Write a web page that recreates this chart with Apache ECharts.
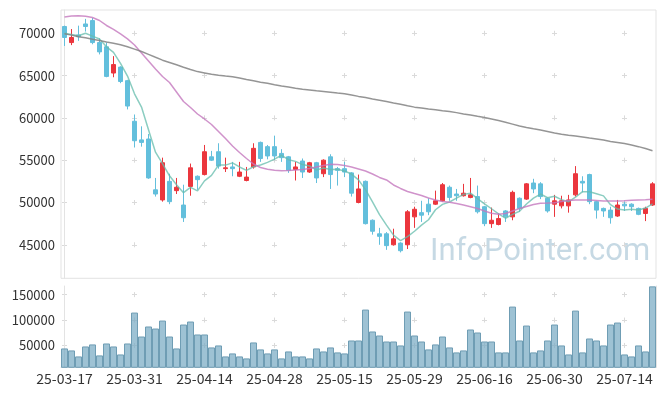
<!DOCTYPE html>
<html><head><meta charset="utf-8">
<script src="https://cdn.jsdelivr.net/npm/echarts@6/dist/echarts.min.js"></script>
<style>html,body{margin:0;padding:0;background:#fff}#c{width:665px;height:396px}</style>
</head><body><div id="c"></div>
<script>
const dates = ['25-03-17','25-03-18','25-03-19','25-03-20','25-03-21','25-03-24','25-03-25','25-03-26','25-03-27','25-03-28',
'25-03-31','25-04-01','25-04-02','25-04-03','25-04-04','25-04-07','25-04-08','25-04-09','25-04-10','25-04-11',
'25-04-14','25-04-15','25-04-16','25-04-17','25-04-18','25-04-21','25-04-22','25-04-23','25-04-24','25-04-25',
'25-04-28','25-04-29','25-04-30','25-05-02','25-05-07','25-05-08','25-05-09','25-05-12','25-05-13','25-05-14',
'25-05-15','25-05-16','25-05-19','25-05-20','25-05-21','25-05-22','25-05-23','25-05-26','25-05-27','25-05-28',
'25-05-29','25-05-30','25-06-02','25-06-04','25-06-05','25-06-09','25-06-10','25-06-11','25-06-12','25-06-13',
'25-06-16','25-06-17','25-06-18','25-06-19','25-06-20','25-06-23','25-06-24','25-06-25','25-06-26','25-06-27',
'25-06-30','25-07-01','25-07-02','25-07-03','25-07-04','25-07-07','25-07-08','25-07-09','25-07-10','25-07-11',
'25-07-14','25-07-15','25-07-16','25-07-17','25-07-18'];

const opens = [70800,68900,69800,71100,71500,68900,68400,65300,66000,64400,
59600,57400,57500,51500,50300,52500,51400,49700,51900,53100,
53300,55400,56000,54000,54200,53100,52600,54200,57100,56600,
56600,55800,55400,53900,54900,53600,54700,53400,55400,54000,
54000,53500,50000,52500,47900,46300,46300,45000,45200,45000,
48300,48800,49800,49800,50200,51800,51000,50800,50600,50700,
49500,47500,47400,49000,48300,50500,50400,52300,52200,50500,
49800,49600,49600,50900,52500,53300,50100,49300,49100,48400,
49800,49800,49300,48700,49700];

const closes = [69500,69500,69600,70800,68900,67800,64900,66300,64300,61400,
57300,57100,52900,51000,54700,50100,51800,48200,54100,52700,
56000,55000,54300,54100,54000,53600,53000,56400,55200,55500,
55500,55300,53800,54200,53600,54700,52900,55000,53300,53800,
53600,51100,51600,47500,46600,46000,44900,45700,44300,48900,
49200,48500,48900,50200,52100,50600,50800,51100,50900,48900,
47500,47900,48100,48300,51200,49300,52200,51600,50700,49000,
50200,50200,50300,53400,52300,50100,49100,49000,48200,49700,
49600,49500,48600,49300,52200];

const lows = [68500,68600,69100,70200,68700,67500,64800,64800,64100,61000,
56500,56600,52800,50700,50100,49800,51000,47700,50800,51500,
53200,54900,54000,53600,53100,53000,52500,54000,54800,55100,
55000,54800,53500,52600,52900,53500,52300,53000,51600,52000,
53000,50700,49900,47400,46200,45000,44400,44900,44100,44500,
47000,47700,48500,49700,50100,50200,50200,50700,50500,48700,
47200,47000,47300,47700,47900,48900,50300,51100,50400,48800,
48300,49300,48800,50700,51200,49800,48100,48300,47500,48300,
49000,49000,48500,47800,49600];

const highs = [70900,70500,70900,71700,71800,69400,68900,67300,66100,64500,
60400,59000,58100,52900,55300,53400,52900,52100,54600,53200,
56800,56100,57000,55300,54800,54800,54200,57000,57200,56800,
57900,56300,55500,54800,55200,54800,54800,55100,55700,54200,
54800,53600,53300,52600,48000,47000,46500,46900,45300,49100,
49500,50200,50500,51400,52300,52000,51600,52200,52900,52000,
49600,49400,48700,49100,51400,50600,52300,52800,52400,50600,
50900,50800,50900,54300,53100,53400,50200,49400,49500,50300,
50100,49900,49400,49500,52400];

const volumes = [44100,40200,28400,48000,52000,30400,53900,48000,32300,53900,
114700,67600,87300,83300,99000,67600,44100,91200,97100,71600,
71600,46100,50000,28400,34300,28400,24500,55900,42200,34300,
42200,24500,38200,28400,28400,24500,44100,38200,46100,36300,
34300,59800,59800,120600,77500,69600,57800,57800,50000,116700,
69600,57800,42200,52000,67600,46100,36300,40200,81400,75500,
57800,57800,36300,36300,126500,59800,89200,36300,40200,59800,
91200,50000,32300,118600,36300,63700,59800,50000,91200,95100,
32300,28400,50000,38200,166300];

const ma5 = [70000,69860,69700,70000,69660,69320,68400,67740,66440,64940,
62840,61280,58600,55940,54600,53160,52100,51160,51780,51380,
52560,53200,54420,54420,54680,54200,53800,54220,54440,54740,
55120,55580,55060,54860,54480,54320,53840,54080,53900,53940,
53720,53360,52680,51520,50080,48560,47320,46140,45500,45960,
46600,47320,47960,49140,49780,50060,50520,50960,51100,50460,
49840,49260,48660,48140,48600,48960,49820,50520,51000,50560,
50740,50340,50080,50620,51280,51260,51040,50780,49740,49220,
49120,49200,49120,49340,49840];

const ma20 = [71930,72050,72080,72010,71870,71510,70920,70450,69920,69330,
68620,67670,66730,65780,64890,64180,63060,61940,61230,60460,
59870,59220,58390,57570,56680,55910,55200,54550,54140,53930,
53810,53760,53780,53840,53900,54020,54200,54370,54520,54490,
54370,54200,53960,53720,53370,52960,52660,52070,51660,51300,
51060,50830,50530,50300,50120,50020,49880,49710,49500,49290,
49000,48720,48610,48700,49000,49290,49530,49760,49910,49940,
49980,50120,50240,50300,50300,50300,50240,50180,50180,50180,
50210,50260,50300,50330,50380];

const ma60 = [69940,69780,69600,69460,69290,69140,68970,68820,68650,68400,
68130,67850,67510,67160,66820,66550,66270,65990,65720,65470,
65310,65150,65040,64950,64870,64720,64540,64390,64220,64080,
63920,63770,63640,63510,63390,63300,63200,63120,63040,62940,
62850,62710,62540,62400,62230,62080,61930,61760,61600,61430,
61270,61160,61050,60960,60850,60750,60620,60470,60330,60180,
60050,59870,59680,59480,59260,59040,58870,58710,58560,58390,
58220,58070,57960,57860,57740,57620,57510,57390,57220,57090,
56960,56800,56600,56380,56120];

const priceTicks = [45000, 50000, 55000, 60000, 65000, 70000];
const volumeTicks = [50000, 100000, 150000];

// layout / style constants
const GL = 61, GW = 595;
const P_TOP = 10, P_H = 268.3, P_MIN = 41040, P_MAX = 72750, P_STEP = 5000;
const V_TOP = 286, V_H = 81.3, V_MIN = 7000, V_MAX = 167000, V_STEP = 50000;
const CROSS = '#dadada', CL = 5;
const bandPx = GW / dates.length;
const xPeriod = bandPx * 10;
const hOffset = xPeriod - (bandPx / 2 - CL / 2);
function vOffset(top, h, min, max, step, firstTick) {
  const period = step * h / (max - min);
  const start = (max - firstTick) * h / (max - min) - CL / 2;
  return { period, offset: ((period - start) % period + period) % period };
}
const pv = vOffset(P_TOP, P_H, P_MIN, P_MAX, P_STEP, priceTicks[priceTicks.length - 1]);
const vv = vOffset(V_TOP, V_H, V_MIN, V_MAX, V_STEP, volumeTicks[volumeTicks.length - 1]);

const candleData = dates.map((d, i) => [opens[i], closes[i], lows[i], highs[i]]);
const font = "'Noto Sans CJK KR', 'Noto Sans', sans-serif";

const chart = echarts.init(document.getElementById('c'), null, { renderer: 'canvas' });
chart.setOption({
  animation: false,
  backgroundColor: '#ffffff',
  grid: [
    { left: GL, width: GW, top: P_TOP, height: P_H, show: true, borderColor: '#e3e3e3', borderWidth: 1, backgroundColor: 'transparent' },
    { left: GL, width: GW, top: V_TOP, height: V_H, show: false }
  ],
  xAxis: [
    { type: 'category', gridIndex: 0, data: dates, boundaryGap: true,
      axisLine: { show: false }, axisTick: { show: false }, axisLabel: { show: false }, splitLine: { show: false } },
    { type: 'category', gridIndex: 1, data: dates, boundaryGap: true,
      axisLine: { show: true, lineStyle: { color: '#e3e3e3' } }, axisTick: { show: false },
      axisLabel: { interval: 9, color: '#333', fontSize: 14, fontFamily: font, margin: 4 }, splitLine: { show: false } },
    { type: 'value', gridIndex: 0, min: -0.5, max: dates.length - 0.5, splitNumber: 9, minInterval: 10, maxInterval: 10,
      axisLine: { show: false }, axisTick: { show: false }, axisLabel: { show: false },
      splitLine: { show: true, showMinLine: false, showMaxLine: false,
        lineStyle: { color: CROSS, width: 1, type: [CL, pv.period - CL], dashOffset: pv.offset } } },
    { type: 'value', gridIndex: 1, min: -0.5, max: dates.length - 0.5, splitNumber: 9, minInterval: 10, maxInterval: 10,
      position: 'top',
      axisLine: { show: false }, axisTick: { show: false }, axisLabel: { show: false },
      splitLine: { show: true, showMinLine: false, showMaxLine: false,
        lineStyle: { color: CROSS, width: 1, type: [CL, vv.period - CL], dashOffset: vv.offset } } }
  ],
  yAxis: [
    { type: 'value', gridIndex: 0, min: P_MIN, max: P_MAX, minInterval: P_STEP, maxInterval: P_STEP,
      axisLine: { show: true, lineStyle: { color: '#e3e3e3' } }, axisTick: { show: false },
      axisLabel: { color: '#333', fontSize: 13, fontFamily: font, margin: 6, showMinLabel: false, showMaxLabel: false,
        formatter: v => String(v) },
      splitLine: { show: true, showMinLine: false, showMaxLine: false,
        lineStyle: { color: CROSS, width: 1, type: [CL, xPeriod - CL], dashOffset: hOffset } } },
    { type: 'value', gridIndex: 1, min: V_MIN, max: V_MAX, minInterval: V_STEP, maxInterval: V_STEP,
      axisLine: { show: true, lineStyle: { color: '#e3e3e3' } }, axisTick: { show: false },
      axisLabel: { color: '#333', fontSize: 13, fontFamily: font, margin: 6, showMinLabel: false, showMaxLabel: false,
        formatter: v => String(v) },
      splitLine: { show: true, showMinLine: false, showMaxLine: false,
        lineStyle: { color: CROSS, width: 1, type: [CL, xPeriod - CL], dashOffset: hOffset } } },
    { type: 'value', gridIndex: 1, min: V_MIN, max: V_MAX, position: 'right',
      axisLine: { show: true, lineStyle: { color: '#e3e3e3' } }, axisTick: { show: false },
      axisLabel: { show: false }, splitLine: { show: false } }
  ],
  graphic: [
    { type: 'text', left: 430, top: 237, z: 0, silent: true,
      style: { text: 'InfoPointer.com', fontSize: 31, fontFamily: "Roboto, sans-serif", fill: '#c6d9e4' } }
  ],
  series: [
    { name: 'price', type: 'candlestick', xAxisIndex: 0, yAxisIndex: 0, data: candleData, barWidth: 5,
      itemStyle: { color: '#eb363d', color0: '#63bfdc', borderColor: '#eb363d', borderColor0: '#63bfdc', borderWidth: 1 } },
    { name: 'MA5', type: 'line', xAxisIndex: 0, yAxisIndex: 0, data: ma5, symbol: 'none', smooth: false,
      lineStyle: { color: 'rgba(100,188,172,0.75)', width: 1.5 } },
    { name: 'MA20', type: 'line', xAxisIndex: 0, yAxisIndex: 0, data: ma20, symbol: 'none', smooth: false,
      lineStyle: { color: 'rgba(196,120,190,0.8)', width: 1.5 } },
    { name: 'MA60', type: 'line', xAxisIndex: 0, yAxisIndex: 0, data: ma60, symbol: 'none', smooth: false,
      lineStyle: { color: 'rgba(130,130,130,0.85)', width: 1.5 } },
    { name: 'volume', type: 'bar', xAxisIndex: 1, yAxisIndex: 1, data: volumes, barCategoryGap: 0,
      itemStyle: { color: 'rgba(120,170,196,0.72)', borderColor: '#6f9db4', borderWidth: 1 } }
  ]
});
</script></body></html>
